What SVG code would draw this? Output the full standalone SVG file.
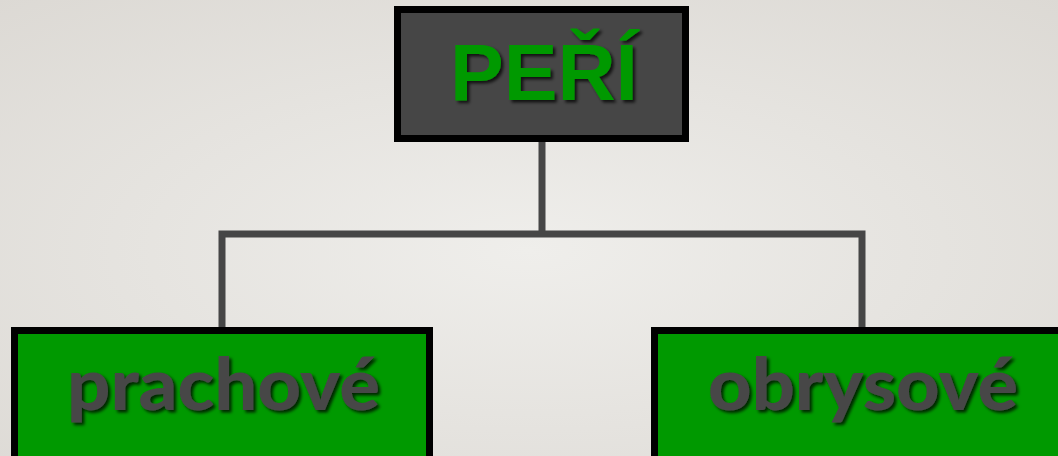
<svg xmlns="http://www.w3.org/2000/svg" width="1058" height="456" viewBox="0 0 1058 456">
<defs>
<radialGradient id="bg" cx="0.5" cy="0.55" r="0.75">
<stop offset="0" stop-color="#efeeeb"/>
<stop offset="1" stop-color="#dcd9d4"/>
</radialGradient>
<filter id="sh" x="-10%" y="-20%" width="120%" height="150%">
<feDropShadow dx="2.5" dy="2.5" stdDeviation="1.5" flood-color="#000" flood-opacity="0.75"/>
</filter>
</defs>
<style>
.box{stroke:#000;stroke-width:7}
.top{fill:#464646}
.leaf{fill:#009900}
.conn{fill:none;stroke:#464646;stroke-width:7;stroke-linejoin:miter}
.t1{font-family:'Liberation Sans',Arial,Helvetica,sans-serif;font-weight:700;font-size:80px;fill:#009900;text-anchor:middle}
.t2{font-family:Lato,'Open Sans',sans-serif;font-weight:900;font-size:72px;fill:#464646;text-anchor:middle}
</style>
<rect width="1058" height="456" fill="url(#bg)"/>
<g id="connectors">
<path class="conn" d="M542 141V234M222 327V234H862V327"/>
</g>
<g id="node-peri">
<rect class="box top" x="397.5" y="9.5" width="288" height="129"/>
<text class="t1" x="544" y="100" textLength="188" lengthAdjust="spacingAndGlyphs" filter="url(#sh)">PEŘÍ</text>
</g>
<g id="node-prachove">
<rect class="box leaf" x="14.5" y="330.5" width="415" height="140"/>
<text class="t2" x="223.5" y="410" textLength="313" lengthAdjust="spacingAndGlyphs" filter="url(#sh)">prachové</text>
</g>
<g id="node-obrysove">
<rect class="box leaf" x="654.5" y="330.5" width="420" height="140"/>
<text class="t2" x="863" y="410" textLength="310" lengthAdjust="spacingAndGlyphs" filter="url(#sh)">obrysové</text>
</g>
</svg>
